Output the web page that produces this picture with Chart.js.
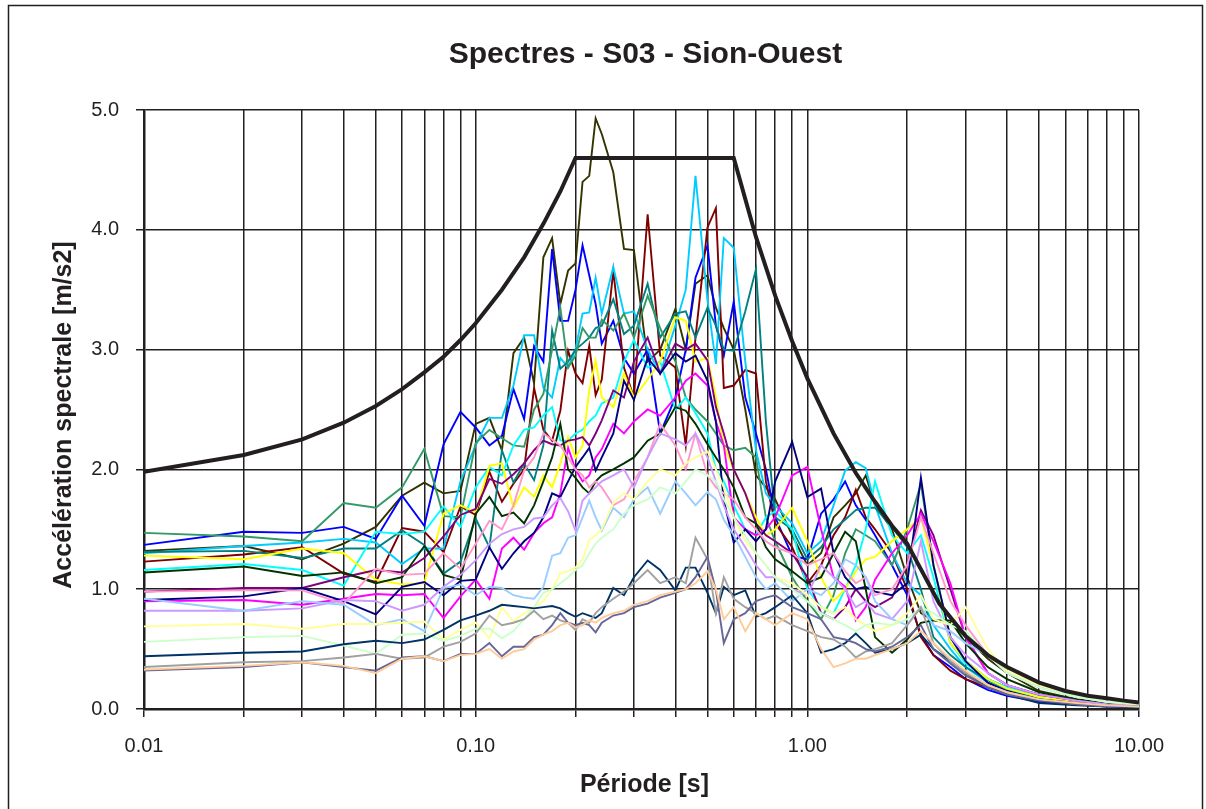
<!DOCTYPE html>
<html>
<head>
<meta charset="utf-8">
<script src="https://cdn.jsdelivr.net/npm/chart.js@4.4.1/dist/chart.umd.min.js"></script>
<style>
  html, body { margin: 0; padding: 0; background: #fff; }
  #wrap { width: 1206px; height: 809px; position: relative; }
</style>
</head>
<body>
<div id="wrap"><canvas id="chart" width="1206" height="809"></canvas></div>
<script>
// periods [s] shared by all recorded spectra
const periods = [
  0.01, 0.02, 0.03, 0.04, 0.05, 0.06, 0.07, 0.08, 0.09,
  0.10, 0.11, 0.12, 0.13, 0.14, 0.15, 0.16, 0.17, 0.18, 0.19,
  0.20, 0.21, 0.22, 0.23, 0.24, 0.26, 0.28, 0.30, 0.33, 0.36,
  0.40, 0.43, 0.46, 0.50, 0.53, 0.56, 0.60, 0.65, 0.70, 0.75, 0.80, 0.90,
  1.00, 1.10, 1.20, 1.30, 1.40, 1.50, 1.60, 1.80, 2.00, 2.20, 2.40, 2.70, 3.00, 3.50, 4.00, 5.00, 6.50, 8.00, 10.0
];

// design spectrum (thick black)
const designPeriods = [0.01, 0.02, 0.03, 0.04, 0.05, 0.06, 0.07, 0.08, 0.09, 0.10, 0.12, 0.14, 0.16, 0.18, 0.20,
  0.60, 0.70, 0.80, 0.90, 1.00, 1.20, 1.40, 1.60, 1.80, 2.00, 2.50, 3.00, 3.50, 4.00, 5.00, 6.00, 7.00, 8.00, 9.00, 10.0];
const designValues = [1.98, 2.12, 2.25, 2.39, 2.53, 2.67, 2.81, 2.94, 3.08, 3.22, 3.50, 3.77, 4.05, 4.32, 4.60,
  4.60, 3.94, 3.45, 3.07, 2.76, 2.30, 1.97, 1.73, 1.53, 1.38, 0.88, 0.61, 0.45, 0.35, 0.22, 0.15, 0.11, 0.09, 0.07, 0.055];

// recorded spectra, one array per accelerogram
const olive = [
  1.32, 1.36, 1.25, 1.38, 1.52, 1.78, 1.89, 1.80, 1.82,
  2.38, 2.43, 2.16, 2.97, 3.10, 2.72, 3.77, 3.93, 3.38, 3.66,
  3.72, 4.40, 4.45, 4.93, 4.80, 4.48, 3.84, 3.83, 2.90, 3.00,
  3.34, 3.00, 3.55, 3.62, 3.35, 3.18, 3.00, 2.50, 1.95, 1.85, 1.75, 1.45,
  1.20, 1.30, 1.60, 1.70, 1.80, 1.95, 1.70, 1.50, 1.10, 0.80, 0.74, 0.72, 0.60, 0.42, 0.30, 0.15, 0.08, 0.05, 0.03
];
const blue = [
  1.37, 1.48, 1.47, 1.52, 1.42, 1.78, 1.53, 2.21, 2.48,
  2.35, 2.20, 2.28, 2.67, 2.42, 3.03, 2.90, 3.84, 3.24, 3.24,
  3.50, 3.87, 3.62, 3.38, 3.05, 3.24, 2.93, 2.80, 3.00, 2.30,
  2.60, 3.00, 3.60, 3.87, 3.20, 2.95, 3.40, 2.60, 2.30, 2.00, 1.60, 1.28,
  1.25, 1.63, 1.75, 1.90, 1.70, 1.58, 1.45, 1.20, 0.95, 0.62, 0.45, 0.35, 0.25, 0.16, 0.11, 0.06, 0.04, 0.02, 0.02
];
const darkRed = [
  1.23, 1.29, 1.35, 1.13, 1.06, 1.51, 1.48, 1.31, 1.69,
  1.62, 1.98, 1.73, 1.88, 2.00, 2.68, 2.33, 2.24, 2.49, 2.99,
  2.80, 2.72, 3.03, 2.62, 2.75, 3.66, 2.85, 2.60, 4.13, 2.95,
  2.85, 2.20, 3.10, 4.02, 4.18, 2.68, 2.70, 2.83, 2.80, 1.90, 1.55, 1.35,
  1.05, 1.20, 1.45, 1.60, 1.83, 1.60, 1.50, 1.30, 1.00, 0.60, 0.45, 0.32, 0.25, 0.18, 0.14, 0.08, 0.05, 0.04, 0.03
];
const sky = [
  1.30, 1.36, 1.39, 1.42, 1.39, 1.21, 1.34, 1.34, 1.90,
  2.20, 2.43, 2.43, 2.70, 3.12, 3.12, 2.68, 2.60, 2.93, 2.85,
  3.00, 3.30, 3.31, 3.60, 3.30, 3.69, 3.30, 3.32, 3.00, 2.80,
  3.20, 3.50, 4.45, 3.41, 2.88, 3.93, 3.85, 2.90, 2.16, 1.80, 1.70, 1.55,
  1.30, 1.40, 1.70, 1.99, 2.06, 2.01, 1.70, 1.30, 1.05, 0.95, 0.70, 0.50, 0.35, 0.22, 0.16, 0.09, 0.05, 0.03, 0.02
];
const teal = [
  1.31, 1.32, 1.26, 1.34, 1.34, 1.49, 1.37, 1.13, 1.23,
  1.59, 1.35, 2.16, 1.89, 2.05, 1.91, 2.20, 3.16, 2.84, 2.90,
  3.00, 3.05, 3.10, 3.18, 3.20, 3.42, 3.13, 3.20, 3.55, 3.10,
  3.30, 3.32, 3.10, 3.35, 3.20, 3.00, 2.99, 3.32, 3.67, 2.40, 1.60, 1.50,
  1.25, 1.35, 1.50, 1.58, 1.66, 1.68, 1.68, 1.52, 1.35, 1.00, 0.60, 0.45, 0.35, 0.24, 0.17, 0.10, 0.06, 0.04, 0.03
];
const seaGreen = [
  1.47, 1.44, 1.40, 1.72, 1.68, 1.85, 2.17, 1.61, 1.60,
  2.22, 2.33, 2.26, 2.20, 2.19, 2.50, 2.63, 3.00, 3.35, 2.85,
  2.95, 3.18, 3.10, 3.10, 3.25, 3.16, 3.30, 3.10, 3.45, 3.18,
  2.90, 2.60, 2.50, 2.40, 2.30, 2.20, 2.16, 2.18, 2.10, 1.60, 1.40, 1.10,
  0.90, 0.75, 0.95, 1.30, 1.50, 1.45, 1.40, 1.20, 1.50, 1.88, 1.20, 0.60, 0.40, 0.25, 0.18, 0.10, 0.06, 0.04, 0.03
];
const cyan = [
  1.16, 1.21, 1.16, 1.03, 1.48, 1.46, 1.48, 1.69, 1.52,
  1.85, 2.02, 1.95, 2.20, 2.33, 2.35, 2.45, 2.52, 2.24, 2.24,
  2.30, 2.33, 2.40, 2.45, 2.55, 2.60, 2.90, 3.08, 2.85, 2.90,
  2.50, 2.60, 2.47, 2.30, 2.00, 1.90, 1.70, 1.50, 1.45, 1.60, 1.65, 1.50,
  1.00, 0.85, 0.80, 1.00, 1.20, 1.50, 1.90, 1.45, 1.30, 1.45, 1.10, 0.55, 0.38, 0.25, 0.18, 0.10, 0.06, 0.04, 0.03
];
const yellow = [
  1.28, 1.25, 1.34, 1.30, 1.08, 1.04, 1.05, 1.63, 1.70,
  1.64, 2.03, 2.05, 1.68, 1.85, 1.77, 1.95, 1.85, 2.05, 2.27,
  2.10, 2.20, 2.66, 2.91, 2.60, 2.52, 2.80, 2.60, 2.75, 2.90,
  3.27, 3.24, 2.90, 2.93, 2.60, 2.20, 2.00, 1.80, 1.60, 1.45, 1.50, 1.68,
  1.40, 1.10, 0.90, 1.00, 1.15, 1.25, 1.27, 1.40, 1.50, 1.60, 1.20, 0.55, 0.40, 0.25, 0.17, 0.10, 0.06, 0.04, 0.03
];
const purple = [
  0.98, 1.01, 1.01, 1.10, 1.16, 1.14, 1.26, 1.44, 1.62,
  1.67, 1.92, 1.88, 1.96, 2.05, 2.16, 2.24, 2.21, 2.20, 2.24,
  2.25, 2.27, 2.20, 2.30, 2.41, 2.66, 2.60, 2.90, 3.10, 2.80,
  3.05, 3.00, 3.05, 2.91, 2.52, 2.30, 2.00, 1.80, 1.55, 1.45, 1.40, 1.30,
  1.10, 0.80, 0.75, 0.85, 1.00, 0.90, 0.85, 0.93, 1.20, 1.66, 1.45, 1.00, 0.60, 0.30, 0.20, 0.12, 0.07, 0.04, 0.03
];
const magenta = [
  0.90, 0.91, 0.87, 0.92, 0.96, 0.95, 0.96, 0.76, 0.94,
  1.08, 0.92, 1.34, 1.43, 1.33, 1.47, 1.55, 1.60, 1.80, 2.18,
  2.00, 1.90, 1.95, 2.10, 2.17, 2.38, 2.30, 2.40, 2.50, 2.45,
  2.60, 2.74, 2.80, 2.70, 2.40, 2.20, 1.60, 1.50, 1.45, 1.50, 1.60, 1.95,
  2.02, 1.50, 1.10, 1.02, 0.74, 0.85, 1.08, 1.30, 1.45, 1.63, 1.40, 1.05, 0.60, 0.30, 0.20, 0.12, 0.07, 0.04, 0.03
];
const navy = [
  0.91, 0.94, 1.01, 0.90, 0.79, 1.02, 1.06, 0.95, 1.07,
  1.08, 1.35, 1.17, 1.30, 1.40, 1.47, 1.60, 1.80, 1.77, 1.90,
  2.02, 2.10, 2.18, 1.99, 2.10, 2.30, 2.74, 2.58, 2.93, 2.80,
  2.97, 2.90, 2.95, 2.74, 2.40, 1.74, 1.39, 1.50, 1.40, 1.50, 1.90, 2.23,
  1.77, 1.84, 1.30, 1.10, 1.00, 1.02, 0.98, 0.95, 1.05, 1.93, 1.20, 0.60, 0.40, 0.22, 0.15, 0.08, 0.05, 0.03, 0.02
];
const darkGreen = [
  1.14, 1.19, 1.11, 1.14, 1.05, 1.10, 1.36, 1.12, 1.08,
  1.63, 1.77, 1.61, 1.64, 1.55, 1.70, 1.90, 2.10, 2.38, 2.00,
  1.93, 1.85, 1.80, 1.90, 1.95, 2.00, 2.05, 2.10, 2.24, 2.30,
  2.52, 2.49, 2.38, 2.21, 2.10, 2.00, 1.85, 1.60, 1.55, 1.35, 1.25, 1.15,
  1.05, 1.10, 1.30, 1.48, 1.40, 1.00, 0.60, 0.47, 0.58, 0.72, 0.74, 0.74, 0.55, 0.35, 0.25, 0.14, 0.08, 0.05, 0.04
];
const pink = [
  0.98, 0.99, 0.99, 0.88, 1.17, 1.12, 1.13, 1.30, 1.17,
  1.38, 1.57, 1.50, 1.70, 1.99, 2.10, 2.30, 2.25, 2.20, 2.10,
  2.00, 1.95, 1.85, 1.90, 1.85, 1.70, 1.75, 1.90, 2.10, 2.38,
  2.20, 2.00, 2.30, 1.95, 1.85, 1.80, 1.75, 1.60, 1.50, 1.40, 1.35, 1.30,
  1.20, 1.25, 1.30, 1.15, 1.05, 1.10, 0.95, 1.00, 1.20, 1.60, 1.30, 0.90, 0.70, 0.45, 0.30, 0.18, 0.10, 0.06, 0.04
];
const lavender = [
  0.82, 0.82, 0.84, 0.91, 0.90, 0.82, 0.87, 1.02, 1.12,
  1.24, 1.38, 1.46, 1.50, 1.52, 1.59, 1.60, 1.70, 1.76, 1.65,
  1.49, 1.74, 1.80, 1.85, 1.90, 1.95, 2.00, 1.85, 2.10, 2.30,
  2.25, 2.20, 2.30, 2.10, 1.90, 1.70, 1.50, 1.35, 1.20, 1.10, 1.10, 1.00,
  0.95, 1.20, 1.10, 1.00, 0.85, 0.90, 0.80, 0.75, 0.90, 1.40, 0.90, 0.60, 0.45, 0.30, 0.20, 0.12, 0.07, 0.04, 0.03
];
const lightBlue = [
  0.92, 0.82, 0.90, 0.87, 0.70, 0.75, 0.65, 1.01, 1.04,
  0.95, 1.02, 1.01, 0.95, 0.93, 0.92, 1.02, 1.28, 1.30, 1.43,
  1.45, 1.60, 1.74, 1.60, 1.49, 1.68, 1.60, 1.75, 1.85, 1.63,
  1.90, 1.80, 1.70, 1.81, 1.75, 1.58, 1.45, 1.27, 1.10, 1.00, 1.05, 0.90,
  1.00, 0.95, 1.05, 1.25, 1.20, 1.10, 0.90, 0.75, 0.70, 0.85, 0.70, 0.65, 0.55, 0.45, 0.30, 0.18, 0.10, 0.06, 0.04
];
const lightYellow = [
  0.69, 0.71, 0.67, 0.71, 0.71, 0.72, 0.73, 0.58, 0.66,
  0.72, 0.59, 0.85, 0.73, 0.80, 0.85, 0.90, 1.00, 1.13, 1.15,
  1.18, 1.25, 1.41, 1.45, 1.50, 1.72, 1.80, 1.75, 1.90, 2.00,
  1.95, 2.05, 2.10, 2.15, 2.00, 1.85, 1.60, 1.40, 1.30, 1.20, 1.10, 1.05,
  0.95, 0.85, 0.80, 0.85, 0.75, 0.70, 0.65, 0.70, 0.80, 0.95, 0.75, 0.70, 0.85, 0.50, 0.32, 0.20, 0.11, 0.06, 0.04
];
const lightGreen = [
  0.56, 0.60, 0.61, 0.53, 0.46, 0.62, 0.63, 0.57, 0.61,
  0.67, 0.67, 0.59, 0.65, 0.75, 0.85, 0.97, 1.00, 1.05, 1.10,
  1.16, 1.20, 1.30, 1.38, 1.43, 1.50, 1.63, 1.70, 1.75, 1.85,
  1.80, 1.90, 2.00, 1.95, 1.90, 1.75, 1.60, 1.45, 1.30, 1.20, 1.10, 1.00,
  0.90, 0.80, 0.75, 0.70, 0.65, 0.70, 0.72, 0.70, 0.75, 0.85, 0.80, 0.70, 0.65, 0.45, 0.30, 0.18, 0.10, 0.06, 0.04
];
const slate = [
  0.44, 0.47, 0.48, 0.54, 0.57, 0.55, 0.58, 0.66, 0.74,
  0.78, 0.82, 0.87, 0.86, 0.85, 0.84, 0.85, 0.86, 0.84, 0.80,
  0.77, 0.80, 0.78, 0.76, 0.80, 1.01, 0.95, 1.10, 1.24, 1.16,
  0.99, 1.18, 1.18, 0.97, 0.80, 1.02, 0.95, 0.99, 0.77, 0.80, 0.85, 0.95,
  0.80, 0.47, 0.50, 0.55, 0.63, 0.55, 0.47, 0.50, 0.55, 0.62, 0.50, 0.40, 0.30, 0.18, 0.12, 0.05, 0.03, 0.02, 0.01
];
const gray = [
  0.35, 0.39, 0.40, 0.43, 0.46, 0.42, 0.43, 0.52, 0.56,
  0.63, 0.78, 0.70, 0.72, 0.75, 0.82, 0.75, 0.78, 0.74, 0.72,
  0.66, 0.75, 0.72, 0.80, 0.85, 0.92, 0.98, 1.05, 1.16, 1.05,
  1.10, 1.05, 1.43, 1.25, 0.80, 1.10, 0.92, 0.85, 0.80, 0.75, 0.78, 0.70,
  0.65, 0.60, 0.58, 0.52, 0.43, 0.48, 0.50, 0.55, 0.70, 0.85, 0.55, 0.40, 0.30, 0.20, 0.14, 0.08, 0.04, 0.03, 0.02
];
const slatePurple = [
  0.32, 0.35, 0.39, 0.35, 0.32, 0.43, 0.44, 0.40, 0.46,
  0.46, 0.55, 0.44, 0.52, 0.52, 0.60, 0.62, 0.70, 0.80, 0.72,
  0.70, 0.72, 0.70, 0.64, 0.72, 0.78, 0.80, 0.85, 0.88, 0.93,
  0.97, 1.00, 1.10, 1.27, 0.99, 0.55, 0.75, 0.80, 0.90, 0.93, 0.95, 0.85,
  0.80, 0.75, 0.60, 0.58, 0.55, 0.50, 0.48, 0.52, 0.60, 0.70, 0.50, 0.38, 0.28, 0.18, 0.12, 0.07, 0.04, 0.02, 0.02
];
const tan = [
  0.33, 0.36, 0.39, 0.36, 0.30, 0.42, 0.44, 0.40, 0.45,
  0.46, 0.50, 0.42, 0.48, 0.50, 0.58, 0.62, 0.65, 0.70, 0.72,
  0.68, 0.70, 0.74, 0.72, 0.76, 0.80, 0.82, 0.87, 0.90, 0.95,
  0.98, 1.00, 1.05, 1.15, 1.00, 0.75, 0.85, 0.65, 0.80, 0.75, 0.70, 0.80,
  0.75, 0.50, 0.35, 0.38, 0.42, 0.42, 0.45, 0.50, 0.55, 0.65, 0.55, 0.42, 0.32, 0.20, 0.14, 0.08, 0.05, 0.03, 0.02
];

// x grid: every 1..9 x 10^n between 0.01 and 10
const xGridValues = [
  0.01, 0.02, 0.03, 0.04, 0.05, 0.06, 0.07, 0.08, 0.09,
  0.1, 0.2, 0.3, 0.4, 0.5, 0.6, 0.7, 0.8, 0.9,
  1, 2, 3, 4, 5, 6, 7, 8, 9, 10
];
const yTicks = [0, 1, 2, 3, 4, 5];

const records = [
  { data: tan, color: '#FFCC99' },
  { data: slatePurple, color: '#666699' },
  { data: gray, color: '#A0A0A0' },
  { data: slate, color: '#003366' },
  { data: lightGreen, color: '#CCFFCC' },
  { data: lightYellow, color: '#FFFF99' },
  { data: lightBlue, color: '#99CCFF' },
  { data: lavender, color: '#CC99FF' },
  { data: pink, color: '#FF99CC' },
  { data: darkGreen, color: '#003300' },
  { data: navy, color: '#000080' },
  { data: magenta, color: '#FF00FF' },
  { data: purple, color: '#800080' },
  { data: yellow, color: '#FFFF00' },
  { data: cyan, color: '#00FFFF' },
  { data: seaGreen, color: '#339966' },
  { data: teal, color: '#008080' },
  { data: sky, color: '#00CCFF' },
  { data: darkRed, color: '#800000' },
  { data: blue, color: '#0000FF' },
  { data: olive, color: '#333300' }
];

const FONT = '"Liberation Sans", Arial, sans-serif';
const INK = '#231f20';

const datasets = [{
  label: 'Spectre de dimensionnement',
  data: designPeriods.map((p, i) => ({ x: p, y: designValues[i] })),
  borderColor: INK,
  borderWidth: 4,
  pointRadius: 0,
  tension: 0,
  order: 0
}];
records.forEach((r, k) => {
  datasets.push({
    label: 'Acc ' + (k + 1),
    data: periods.map((p, i) => ({ x: p, y: r.data[i] })),
    borderColor: r.color,
    borderWidth: 1.9,
    pointRadius: 0,
    tension: 0,
    order: k + 1
  });
});

// titles and frame drawn as text on the canvas
const textPlugin = {
  id: 'texts',
  beforeDraw(chart) {
    const ctx = chart.ctx;
    ctx.save();
    ctx.fillStyle = '#fff';
    ctx.fillRect(0, 0, chart.width, chart.height);
    ctx.strokeStyle = INK;
    ctx.lineWidth = 1.5;
    ctx.strokeRect(8.5, 5.5, 1194, 820);
    ctx.restore();
  },
  afterDraw(chart) {
    const ctx = chart.ctx;
    const a = chart.chartArea;
    const cx = (a.left + a.right) / 2;
    ctx.save();
    ctx.fillStyle = INK;
    ctx.textAlign = 'center';
    ctx.textBaseline = 'alphabetic';
    ctx.font = 'bold 30px ' + FONT;
    ctx.fillText('Spectres - S03 - Sion-Ouest', cx + 4, 63);
    ctx.font = 'bold 25px ' + FONT;
    ctx.fillText('Période [s]', cx + 3, 792);
    ctx.translate(71, 415);
    ctx.rotate(-Math.PI / 2);
    ctx.fillText('Accélération spectrale [m/s2]', 0, 0);
    ctx.restore();
  }
};

new Chart(document.getElementById('chart'), {
  type: 'line',
  data: { datasets },
  plugins: [textPlugin],
  options: {
    responsive: false,
    animation: false,
    devicePixelRatio: 1,
    layout: { padding: { left: 0, right: 67, top: 110, bottom: 0 } },
    plugins: {
      legend: { display: false },
      title: { display: false },
      tooltip: { enabled: false }
    },
    scales: {
      x: {
        type: 'logarithmic',
        min: 0.01,
        max: 10,
        afterBuildTicks(scale) {
          scale.ticks = xGridValues.map(v => ({ value: v }));
        },
        afterFit(scale) { scale.height = 100; },
        grid: { color: INK, lineWidth: 1.5, tickLength: 8, drawTicks: true },
        border: { color: INK, width: 2.5 },
        ticks: {
          autoSkip: false,
          maxRotation: 0,
          minRotation: 0,
          padding: 17,
          color: INK,
          font: { family: FONT, size: 20 },
          callback(v) {
            const l = Math.log10(v);
            return Math.abs(l - Math.round(l)) < 1e-6 ? Number(v).toFixed(2) : '';
          }
        }
      },
      y: {
        type: 'linear',
        min: 0,
        max: 5,
        afterBuildTicks(scale) {
          scale.ticks = yTicks.map(v => ({ value: v }));
        },
        afterFit(scale) { scale.width = 144; },
        grid: { color: INK, lineWidth: 1.5, tickLength: 8, drawTicks: true },
        border: { color: INK, width: 2.5 },
        ticks: {
          padding: 17,
          color: INK,
          font: { family: FONT, size: 20 },
          callback(v) { return Number(v).toFixed(1); }
        }
      }
    }
  }
});
</script>
</body>
</html>
